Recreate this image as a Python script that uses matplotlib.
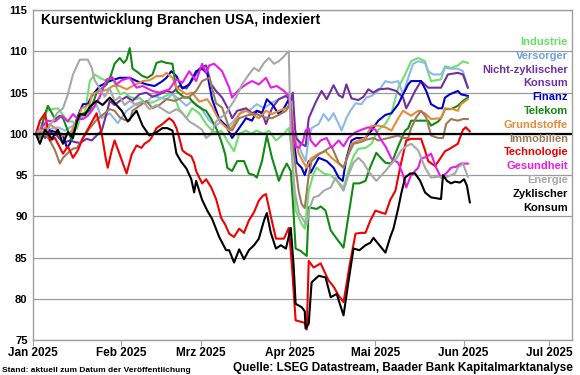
import matplotlib
matplotlib.use("Agg")
import matplotlib.pyplot as plt
import matplotlib.dates as mdates
import numpy as np

plt.rcParams['font.family'] = ['Liberation Sans', 'DejaVu Sans']
plt.rcParams['font.weight'] = 'bold'

# (Tag seit 1.1.2025, Indexwert)
industrie = [(1.0, 100), (2.4, 100.5), (4.9, 102.8), (6.6, 103), (8.7, 103.1), (10.5, 102.3), (12.2, 101.5), (14.0, 101.5),
	(15.4, 100.6), (16.4, 101.8), (18.2, 102.5), (19.9, 106.4), (21.6, 107.2), (23.4, 106.8), (25.8, 106.4), (27.6, 107),
	(29.3, 105.6), (30.4, 104.8), (32.1, 105), (33.9, 104.5), (36.3, 104.2), (37.3, 104.4), (39.1, 103.8), (41.9, 103.8),
	(45.4, 104.4), (48.9, 105), (51.3, 103), (53.8, 101.9), (55.8, 103.1), (58.3, 102.5), (60.7, 101.2), (62.8, 100.4),
	(64.6, 100.1), (66.0, 100.4), (68.1, 99.2), (70.5, 97.9), (72.3, 100), (74.7, 100.4), (76.4, 100), (78.5, 100.4),
	(81.0, 100), (82.7, 100.4), (85.2, 99.2), (88.0, 100), (89.7, 100.7), (90.8, 98), (92.1, 90.7), (94.2, 89.1),
	(95.3, 88.5), (96.7, 93.1), (98.4, 95.2), (99.5, 95.9), (101.9, 95.2), (104.4, 95), (107.2, 94.1), (108.9, 93.5),
	(110.6, 95.5), (112.4, 97.3), (114.1, 98.2), (116.6, 98.3), (118.7, 98.8), (121.1, 100.5), (123.6, 101.2), (125.7, 102.5),
	(128.1, 105.6), (130.5, 107.2), (132.6, 108.8), (135.1, 109.2), (137.5, 108.8), (138.6, 107.4), (139.6, 106.4),
	(143.1, 106.6), (144.5, 108.2), (146.6, 108), (149.0, 108.3), (150.8, 108.8), (152.5, 108.6)]

versorger = [(1.0, 100), (2.4, 101.4), (3.5, 101.2), (5.9, 100.6), (8.7, 100.8), (11.2, 100.4), (14.0, 101), (16.4, 101.8),
	(18.8, 102.4), (20.9, 103), (22.3, 103.5), (24.1, 101.9), (26.9, 102.5), (29.7, 101.3), (32.8, 102.8), (36.3, 103.7),
	(39.8, 103.8), (41.9, 104.6), (44.3, 104.4), (46.8, 104.2), (48.9, 104.8), (51.3, 104.2), (53.8, 103.4), (55.8, 104),
	(59.0, 103.1), (61.8, 101.6), (64.2, 101), (66.0, 101.5), (68.1, 100.7), (71.2, 101.9), (73.3, 102.8), (75.7, 102.8),
	(78.5, 103.6), (81.0, 103.1), (83.4, 103.7), (86.2, 104.2), (88.7, 104.6), (89.7, 105), (91.4, 101.2), (93.9, 97.9),
	(95.6, 96.7), (96.7, 99.5), (97.7, 100.7), (100.2, 101.2), (101.9, 102.4), (103.7, 101.6), (105.4, 102.5), (107.2, 101.2),
	(108.2, 100.4), (109.9, 101.9), (111.3, 102.8), (113.1, 103.7), (115.2, 103.6), (116.9, 104.4), (118.7, 104.6),
	(121.1, 105.2), (123.6, 106.4), (125.7, 106.2), (128.1, 106.4), (129.8, 104.8), (131.6, 106.8), (133.3, 108.5),
	(135.1, 108.8), (137.5, 108.6), (138.6, 107.6), (140.3, 107.2), (143.1, 107.2), (144.5, 108), (146.6, 107.9),
	(149.0, 107.9), (150.8, 107.6), (152.5, 105.6)]

nicht_zykl = [(1.0, 100), (2.4, 100.5), (4.2, 99.5), (5.9, 100.2), (8.4, 99.8), (10.5, 98.9), (12.9, 99.2), (14.7, 99),
	(16.4, 98.9), (18.8, 99.4), (20.6, 99.2), (22.3, 99.8), (24.1, 100.4), (25.8, 102.5), (26.9, 104), (28.6, 103.5),
	(30.4, 104), (32.8, 104.5), (34.9, 104), (37.3, 104.8), (39.8, 105), (41.9, 104.5), (44.3, 104.8), (46.8, 105.2),
	(48.9, 105), (51.3, 105.8), (53.8, 105.5), (55.8, 106.5), (58.3, 107.9), (60.7, 108.3), (62.5, 106), (64.2, 105.2),
	(66.3, 104.4), (68.8, 102.8), (69.8, 101.9), (71.6, 102.8), (74.7, 103.1), (76.8, 102.5), (78.5, 102.8), (80.3, 102.6),
	(81.7, 101.2), (83.8, 103.1), (86.2, 104.2), (88.7, 104.6), (90.4, 104), (91.1, 105), (92.1, 99.5), (94.2, 98.8),
	(95.6, 98.5), (96.7, 101.9), (99.1, 103.8), (101.2, 105.2), (103.0, 104.2), (105.4, 105.9), (107.2, 104.7),
	(108.6, 104.4), (109.9, 106), (111.7, 104.3), (114.1, 104.1), (115.9, 104.5), (117.6, 105.4), (119.4, 105),
	(121.1, 105.4), (124.6, 105.5), (127.4, 105.2), (129.8, 104.4), (130.9, 103.1), (132.3, 104), (134.0, 105.2),
	(136.1, 106.4), (138.6, 105.6), (143.1, 105.6), (145.5, 107.2), (149.0, 107.4), (150.8, 107.2), (152.5, 105.6)]

finanz = [(1.0, 100), (3.5, 100.6), (5.9, 100.4), (8.4, 100.2), (10.5, 99.8), (11.9, 98.3), (12.9, 98.8), (14.0, 100),
	(15.4, 101.9), (17.5, 103.6), (19.2, 103.6), (20.6, 104.6), (23.4, 105.8), (26.9, 106.4), (30.4, 106.8), (33.9, 106.8),
	(36.3, 106.4), (39.8, 106), (42.6, 105.8), (45.0, 106.3), (46.8, 106.8), (48.5, 107.6), (50.3, 107), (52.4, 105.5),
	(54.8, 106), (57.2, 107.6), (59.3, 107.9), (61.1, 107.3), (62.8, 104.2), (65.3, 101.8), (67.7, 101), (69.8, 99.5),
	(72.3, 100.7), (74.7, 101.9), (76.8, 101.6), (78.5, 102.8), (80.3, 102.5), (82.0, 104.2), (83.8, 103.6), (86.2, 102.4),
	(88.0, 103.1), (89.7, 104.2), (91.1, 100), (92.5, 96.5), (94.2, 95.9), (95.3, 95), (96.7, 96.7), (97.4, 95.3),
	(100.2, 97.1), (103.0, 96.7), (105.4, 95.9), (107.2, 94.7), (108.6, 94.3), (109.9, 97), (111.7, 99.2), (113.4, 99.5),
	(116.6, 99.5), (118.7, 100.4), (121.1, 101.6), (123.6, 102.3), (125.7, 102.5), (128.1, 103.6), (129.8, 104.8),
	(131.6, 106), (132.6, 106.4), (136.1, 106.4), (137.9, 105.2), (139.6, 103.6), (142.1, 103.1), (143.5, 103.1),
	(144.5, 104.4), (146.2, 104.8), (149.0, 105.2), (150.1, 104.8), (152.5, 104.6)]

telekom = [(1.0, 100), (2.1, 99.5), (3.8, 102), (5.2, 103.4), (6.6, 102.5), (7.7, 101.8), (9.4, 102.2), (10.5, 101.9),
	(12.2, 100.4), (13.6, 99.2), (15.4, 101.6), (17.1, 102.4), (19.9, 102.8), (21.3, 104), (22.3, 105), (24.1, 105.5),
	(25.8, 106), (27.2, 107), (28.6, 108.5), (30.4, 109.2), (31.8, 108.6), (32.8, 109), (33.9, 110.4), (34.9, 107.9),
	(36.6, 107.5), (38.4, 107), (40.1, 106.8), (41.9, 107.2), (43.3, 108.6), (45.0, 108.8), (46.8, 108.6), (48.9, 108.5),
	(50.3, 105.2), (51.7, 104.8), (53.1, 104.4), (54.8, 104.4), (56.2, 103.8), (57.6, 103.4), (59.3, 103), (60.7, 102.8),
	(62.5, 101.8), (64.2, 100.7), (65.3, 99.8), (66.3, 98.8), (67.4, 97.5), (68.1, 95.9), (69.8, 95.5), (71.6, 96.7),
	(74.0, 96.7), (75.7, 95.2), (77.5, 95), (78.5, 94.7), (80.3, 96.7), (82.0, 99.8), (83.8, 97.1), (85.2, 95.5),
	(86.2, 94.3), (87.6, 95.5), (89.0, 96.4), (90.4, 95.5), (91.1, 92), (92.1, 86.1), (93.9, 85.8), (94.9, 85.5),
	(96.0, 85.2), (96.7, 91.1), (98.1, 91), (99.5, 90.9), (100.9, 91.2), (102.6, 90.7), (104.4, 88.3), (106.5, 87.3),
	(108.9, 86.2), (110.6, 90), (112.4, 94), (114.5, 94), (116.6, 94.3), (118.3, 96), (120.4, 97.7), (122.2, 97),
	(123.6, 96.5), (125.7, 96.4), (128.1, 98.5), (130.5, 100.4), (131.6, 100.7), (132.6, 101.6), (135.1, 101.6),
	(138.6, 101.6), (139.6, 101), (142.1, 101.5), (143.1, 101.9), (144.5, 103), (146.6, 103), (149.0, 103.4),
	(150.8, 104), (152.5, 104.4)]

grundstoffe = [(1.0, 100), (3.5, 100.5), (5.9, 101.2), (8.4, 100.5), (10.5, 99.8), (12.9, 100), (15.4, 101.6), (17.1, 103.1),
	(19.9, 103.6), (20.6, 104.8), (23.4, 105.2), (25.8, 105.3), (27.9, 105.8), (30.4, 105.8), (32.8, 105.4), (34.9, 105.8),
	(38.4, 106.4), (40.8, 106.5), (43.3, 107), (45.4, 107), (46.8, 107.4), (48.9, 106.8), (50.3, 105.6), (53.8, 104.8),
	(55.8, 105), (58.3, 103.9), (61.1, 104.2), (62.8, 103.3), (65.3, 101.6), (68.8, 100.4), (70.5, 101.2), (72.3, 102.4),
	(74.7, 102.8), (76.8, 102.4), (79.2, 101.9), (81.7, 102.8), (83.8, 102.4), (86.2, 102.8), (88.7, 103.1), (90.4, 103.7),
	(91.4, 100), (93.2, 97.6), (94.9, 96.5), (96.0, 95.9), (97.4, 97), (100.2, 97.6), (102.6, 97.9), (104.7, 97.1),
	(107.2, 96.4), (108.9, 95.9), (110.6, 97.5), (111.7, 98.8), (114.1, 99.2), (116.6, 99.5), (118.7, 101), (121.1, 101),
	(123.6, 100.8), (125.7, 100.4), (128.1, 101.9), (129.8, 102.8), (132.6, 102.2), (135.1, 102.8), (137.5, 102.5),
	(139.6, 101.8), (143.1, 101.9), (144.5, 103.1), (147.3, 103), (149.0, 102.8), (150.1, 103.6), (152.5, 104.2)]

immobilien = [(1.0, 100), (2.4, 99.5), (4.2, 100), (5.9, 99.2), (7.7, 98), (9.4, 96.4), (10.5, 97.1), (11.9, 97.6),
	(14.0, 98.2), (15.4, 98.3), (17.5, 99.5), (19.9, 100.7), (22.3, 101.7), (24.4, 102.3), (26.9, 103), (28.6, 102.8),
	(30.4, 102), (32.1, 101.7), (33.9, 101.6), (34.9, 102.8), (37.3, 103.4), (39.8, 104), (41.9, 103.1), (44.3, 103.5),
	(46.8, 104.2), (49.6, 104), (52.4, 104.4), (54.8, 104.5), (57.2, 105.2), (59.3, 106.4), (61.8, 106.8), (62.8, 105.5),
	(64.2, 103.7), (66.3, 103.2), (68.8, 100.7), (69.8, 100.4), (72.3, 101.9), (75.7, 102.3), (78.5, 102.4), (81.0, 102),
	(83.8, 101.9), (86.2, 102.3), (88.7, 102.8), (90.4, 103.7), (91.4, 98), (92.1, 95.9), (93.2, 93), (94.2, 91.5),
	(95.3, 91), (96.7, 95), (97.7, 96.7), (100.2, 97.5), (102.6, 98), (104.7, 98.5), (107.2, 96.5), (108.9, 95.9),
	(110.6, 97.5), (112.4, 98.8), (114.8, 99), (116.9, 99.3), (119.4, 99.5), (121.1, 99.2), (124.6, 99.5), (128.1, 99.8),
	(129.8, 99.5), (131.6, 99.5), (132.6, 100.7), (134.4, 102), (136.1, 102.8), (137.9, 102), (139.6, 99.8), (142.1, 99.5),
	(143.8, 99.5), (144.9, 101.2), (146.6, 101.8), (149.0, 101.6), (150.8, 101.8), (152.5, 101.8)]

technologie = [(1.0, 100), (2.4, 101.6), (4.2, 102.5), (5.9, 99.2), (7.7, 99.5), (10.5, 97.6), (12.2, 98.5), (14.0, 97.1),
	(15.7, 98), (17.5, 99.5), (19.9, 101), (22.3, 102.5), (24.1, 100), (25.5, 97), (26.2, 95.9), (27.6, 98), (28.6, 99.2),
	(30.4, 97.5), (32.8, 95.2), (34.6, 97.5), (36.3, 98.6), (38.0, 98.3), (39.1, 98.8), (40.8, 99.2), (41.5, 99.5),
	(43.3, 100.7), (45.4, 101.2), (47.8, 101.9), (49.2, 101.5), (50.3, 100.7), (51.3, 99.5), (52.4, 98), (53.8, 97.6),
	(55.5, 97.3), (56.5, 96.5), (57.2, 95.5), (58.3, 94.7), (59.3, 94), (60.7, 94.5), (62.5, 93.5), (64.2, 92.1),
	(66.0, 89.8), (67.4, 89), (68.8, 87.9), (70.5, 87.5), (72.3, 88.5), (74.0, 88), (75.7, 89.5), (77.5, 90.5),
	(79.2, 91.9), (80.6, 92.5), (81.7, 92.7), (83.4, 90), (85.2, 87.3), (88.0, 87.3), (89.7, 88.6), (90.8, 84),
	(92.1, 77.4), (94.2, 77.2), (95.3, 77.1), (96.0, 76.3), (96.7, 84.6), (98.4, 83.8), (100.9, 84.3), (102.6, 83),
	(103.7, 82.2), (105.4, 81.5), (107.2, 80.4), (108.9, 79.6), (111.0, 84), (113.1, 87.9), (114.8, 88), (116.6, 88),
	(118.3, 89.5), (120.1, 90.7), (121.8, 90.5), (123.6, 90.3), (125.3, 92), (127.1, 93.1), (128.8, 96), (130.9, 99.2),
	(132.6, 99.4), (134.4, 99.4), (136.1, 99.4), (137.5, 98), (138.6, 96.7), (141.0, 96.1), (142.8, 97), (144.5, 97.9),
	(146.2, 98.2), (147.6, 98.5), (149.0, 98.8), (150.8, 100.5), (151.8, 100.8), (153.2, 100.3)]

gesundheit = [(1.0, 100), (2.4, 100.5), (4.9, 101.6), (7.7, 101.5), (10.1, 102.2), (12.2, 101.5), (14.0, 102.4), (15.7, 101.8),
	(17.5, 101.8), (19.2, 102.2), (20.6, 102.8), (21.6, 103.4), (23.4, 104.5), (25.8, 106.6), (27.9, 106.8), (29.3, 106),
	(31.1, 106.5), (33.9, 106.8), (36.3, 105.6), (38.4, 105.8), (41.9, 105.2), (44.3, 105), (47.8, 105.4), (50.3, 106.6),
	(52.4, 106.2), (54.8, 107.6), (57.2, 106.4), (59.3, 108.5), (60.7, 107.4), (61.8, 108.3), (63.5, 108.5), (66.3, 107.6),
	(68.8, 105.6), (69.8, 104.4), (72.3, 105.4), (74.7, 106), (76.8, 106.4), (79.2, 106), (81.7, 106.8), (83.4, 105.6),
	(85.5, 105.8), (88.0, 105.2), (89.7, 104.6), (90.8, 101), (92.1, 98.5), (93.2, 98.3), (94.6, 99), (95.6, 100.4),
	(96.7, 100.7), (97.4, 99.2), (99.1, 98.5), (100.9, 99.2), (103.0, 99.5), (104.7, 98.3), (107.2, 99.2), (108.9, 98.5),
	(110.6, 99.5), (113.1, 100.2), (115.2, 100.5), (117.6, 100.8), (120.1, 100.5), (122.2, 99.2), (123.6, 98.5),
	(125.7, 97), (128.1, 96.5), (129.8, 95), (130.9, 93.5), (132.6, 95), (135.1, 95.9), (136.1, 97), (137.9, 97.2),
	(139.6, 97.6), (141.4, 95.9), (143.1, 94.7), (144.9, 95.2), (146.6, 95.9), (148.3, 96), (150.1, 96.4), (152.5, 96.4)]

energie = [(1.0, 100), (2.4, 100.5), (4.2, 100), (5.9, 101), (8.4, 102.5), (10.5, 103.1), (12.2, 104.8), (14.0, 107.2),
	(15.7, 108.5), (16.4, 109), (19.2, 109), (20.6, 108), (21.6, 106.5), (23.4, 105.5), (25.1, 104.5), (26.9, 105.5),
	(28.6, 104), (30.4, 104.5), (32.1, 103.5), (33.9, 104), (36.3, 103.5), (38.4, 104), (40.8, 103), (43.3, 103.5),
	(45.4, 103), (47.8, 102.5), (50.3, 103), (52.4, 102.5), (54.8, 101.5), (57.2, 101), (59.3, 100.5), (60.7, 99.5),
	(62.5, 100), (64.2, 101.5), (66.0, 102), (67.7, 102.5), (69.5, 103.5), (71.2, 104.4), (73.3, 106), (75.7, 107.2),
	(77.5, 108), (79.2, 107.6), (81.0, 108.6), (82.7, 109.2), (84.5, 108.5), (86.2, 108.8), (88.0, 109.4), (89.0, 109.8),
	(89.7, 110), (90.4, 99), (91.8, 93), (93.2, 90.5), (94.9, 89.5), (96.0, 89), (97.0, 91), (98.4, 92.3), (100.2, 92.5),
	(101.9, 93.1), (104.4, 93.5), (106.1, 94.7), (107.2, 94), (108.9, 93.1), (110.6, 95), (112.4, 96.5), (114.1, 97.1),
	(115.9, 96.5), (117.6, 95.5), (120.4, 94.3), (123.6, 95.5), (125.7, 96.4), (127.4, 97), (129.1, 98), (130.9, 98.5),
	(132.6, 98.8), (135.1, 98), (137.5, 95.9), (139.6, 94.7), (142.1, 94.8), (144.5, 94.7), (146.6, 95), (148.0, 95.2),
	(149.0, 95.9), (150.8, 96.4), (152.5, 94.8)]

zyklisch = [(1.0, 100), (2.4, 98.8), (4.2, 100.5), (6.6, 99.4), (8.7, 100.5), (10.5, 98.8), (12.2, 100.2), (14.0, 99.5),
	(15.4, 101.5), (16.4, 102.4), (18.2, 102.3), (19.9, 103.3), (22.3, 104), (24.4, 103.5), (26.9, 104.4), (29.0, 103.6),
	(31.1, 102.8), (33.2, 101.5), (36.3, 102.8), (38.4, 101), (40.8, 99.8), (43.3, 100.2), (45.4, 100.7), (47.1, 100.7),
	(48.9, 100.4), (50.3, 97.6), (52.0, 96.6), (53.8, 95.8), (55.5, 94.5), (56.5, 92.9), (57.2, 94.3), (59.3, 92),
	(61.1, 90.7), (62.8, 89.7), (65.3, 87.5), (67.7, 85.9), (68.8, 85.9), (70.5, 84.4), (72.3, 86), (74.0, 84.8),
	(75.7, 85.9), (77.5, 86.5), (79.2, 87.3), (81.0, 89.5), (82.0, 90.4), (83.4, 88), (85.2, 86.1), (86.9, 86.5),
	(88.7, 86.1), (90.4, 88.6), (91.4, 84), (92.1, 79.4), (94.2, 79), (95.3, 78.5), (95.6, 76.4), (96.7, 77),
	(97.7, 82), (100.2, 82.8), (102.6, 82.6), (104.4, 80.2), (106.5, 80.6), (108.9, 78), (110.6, 82), (112.4, 86.1),
	(114.5, 85.9), (116.6, 86.5), (118.3, 86.8), (119.4, 87.4), (121.5, 86.5), (123.6, 85.6), (125.3, 87.5), (126.4, 88.5),
	(128.1, 91), (129.1, 92.7), (130.5, 94.7), (132.3, 95.2), (134.0, 95.2), (135.8, 94.3), (137.5, 92.9), (139.6, 92.3),
	(141.4, 92.2), (143.1, 92.1), (143.8, 95), (145.2, 94.3), (146.6, 94), (148.0, 94.2), (149.7, 94.1), (151.2, 94.5),
	(152.2, 93.7), (153.2, 91.7)]

labels = ['Industrie', 'Versorger', 'Nicht-zyklischer\nKonsum', 'Finanz', 'Telekom', 'Grundstoffe',
	'Immobilien', 'Technologie', 'Gesundheit', 'Energie', 'Zyklischer\nKonsum']
series = [industrie, versorger, nicht_zykl, finanz, telekom, grundstoffe, immobilien, technologie, gesundheit, energie, zyklisch]
colors = ['#6FE06F', '#8DB8E8', '#7030A0', '#0000C8', '#128A12', '#E68A3A', '#9C7A58', '#F00000', '#E81CE8', '#A8A8A8', '#000000']
label_colors = ['#66DD66', '#6F9FE0', '#7030A0', '#0000C8', '#128A12', '#E68A3A', '#9C7A58', '#F00000', '#E81CE8', '#A8A8A8', '#000000']
monate = ['Jan', 'Feb', 'Mrz', 'Apr', 'Mai', 'Jun', 'Jul', 'Aug']

start = np.datetime64('2025-01-01T00:00')

def to_dates(days):
	return start + (np.asarray(days) * 1440).astype('timedelta64[m]')

def month_label(x, pos):
	d = mdates.num2date(x)
	return '%s %d' % (monate[d.month - 1], d.year)

fig = plt.figure(figsize=(5.8, 3.75), dpi=100)
ax = fig.add_axes([0.057, 0.093, 0.929, 0.88])

for data, col in zip(series, colors):
	arr = np.array(data)
	ax.plot(to_dates(arr[:, 0]), arr[:, 1], color=col, lw=1.5, zorder=2)

ax.axhline(100, color='black', lw=1.6, zorder=3)
ax.set_ylim(75, 115)
ax.set_yticks(np.arange(75, 116, 5))
ax.set_xlim(to_dates([0])[0], to_dates([189])[0])
ax.xaxis.set_major_locator(mdates.MonthLocator())
ax.xaxis.set_major_formatter(plt.FuncFormatter(month_label))
ax.grid(axis='y', color='#9a9a9a', lw=0.9, zorder=1)
for s in ax.spines.values():
	s.set_color('#a0a0a0')
	s.set_linewidth(1.0)
ax.tick_params(axis='y', length=0, labelsize=8, pad=4)
ax.tick_params(axis='x', length=4, color='#a0a0a0', labelsize=8.5, pad=1)

ax.text(0.015, 0.99, 'Kursentwicklung Branchen USA, indexiert', transform=ax.transAxes,
	fontsize=10, fontweight='bold', va='top', ha='left')

# Beschriftung rechts, jede Zeile einzeln
line = 0
for lab, col in zip(labels, label_colors):
	for part in lab.split('\n'):
		y = 1 - (42 + 13.8 * line) / 375
		fig.text(568 / 580, y, part, color=col, fontsize=8, fontweight='bold', ha='right', va='center')
		line += 1

fig.text(0.004, 0.004, 'Stand: aktuell zum Datum der Veröffentlichung', fontsize=6, fontweight='bold', ha='left', va='bottom')
fig.text(0.988, 0.002, 'Quelle: LSEG Datastream, Baader Bank Kapitalmarktanalyse', fontsize=8.5, fontweight='bold', ha='right', va='bottom')

fig.savefig('out.png', dpi=100)
